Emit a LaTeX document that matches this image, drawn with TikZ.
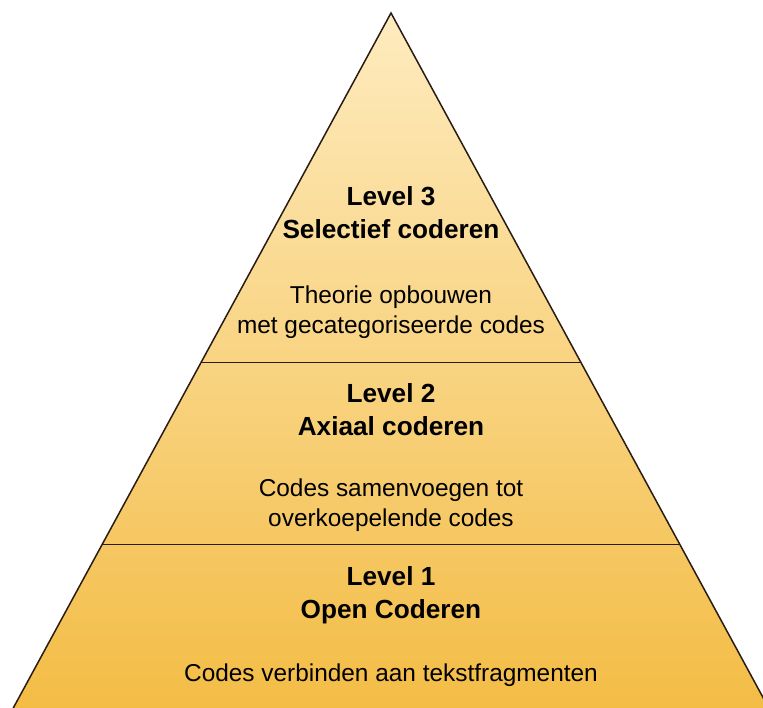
\documentclass[tikz,border=0pt]{standalone}
\usepackage{fontspec}
\setmainfont{Liberation Sans}
\usetikzlibrary{calc}
\definecolor{pyrtop}{HTML}{FEEBBF}
\definecolor{pyrbot}{HTML}{F3BC44}
\definecolor{pyredge}{HTML}{2A1C12}
\tikzset{
  heading/.style={align=center, font=\fontsize{26.2}{33}\selectfont\bfseries, text=black, inner sep=0pt},
  desc/.style={align=center, font=\fontsize{24.4}{30}\selectfont, text=black, inner sep=0pt},
  divider/.style={draw=pyredge, line width=1.8pt},
  outline/.style={draw=pyredge, line width=1.5pt, line join=miter}
}
\begin{document}
\begin{tikzpicture}[x=1pt,y=-1pt]
\useasboundingbox (0,0) rectangle (763,707);
% corners of the pyramid (base lies just below the lower edge)
\coordinate (apex) at (391,13);
\coordinate (bl) at (10,714);
\coordinate (br) at (772,714);
% shaded body
\begin{scope}
  \clip (0,0) rectangle (763,707);
  \shade[top color=pyrtop, bottom color=pyrbot] (apex) -- (bl) -- (br) -- cycle;
  \draw[outline] (bl) -- (apex) -- (br);
\end{scope}
% level boundaries
\coordinate (l3a) at ($(apex)!0.4986!(bl)$);
\coordinate (l3b) at ($(apex)!0.4986!(br)$);
\coordinate (l2a) at ($(apex)!0.7582!(bl)$);
\coordinate (l2b) at ($(apex)!0.7582!(br)$);
\draw[divider] (l3a) -- (l3b);
\draw[divider] (l2a) -- (l2b);
% level 3
\node[heading] (h3) at (391,213) {Level 3\\Selectief coderen};
\node[desc] (d3) at (391,312) {Theorie opbouwen\\met gecategoriseerde codes};
% level 2
\node[heading] (h2) at (391,410) {Level 2\\Axiaal coderen};
\node[desc] (d2) at (391,505) {Codes samenvoegen tot\\overkoepelende codes};
% level 1
\node[heading] (h1) at (391,595) {Level 1\\Open Coderen};
\node[desc] (d1) at (391,675) {Codes verbinden aan tekstfragmenten};
\end{tikzpicture}
\end{document}
